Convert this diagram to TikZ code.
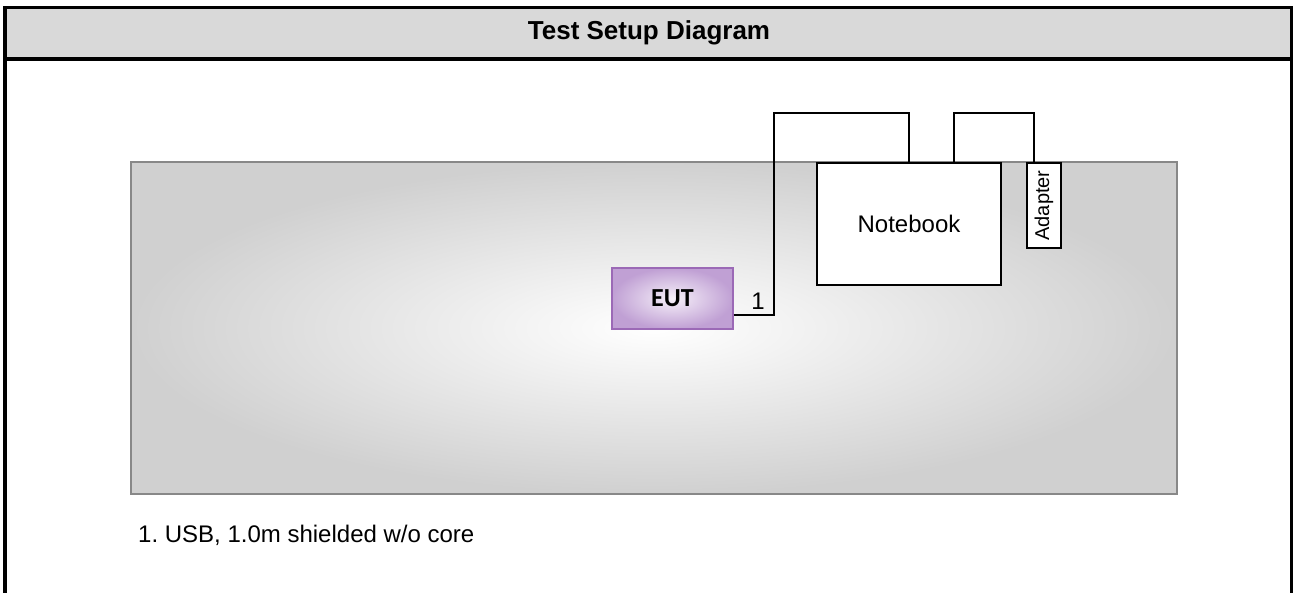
\documentclass[tikz,border=0pt]{standalone}
\usepackage{fontspec}
\setmainfont{Liberation Sans}
\newfontfamily\eutfont{Carlito}
\frenchspacing
\definecolor{hdrgray}{RGB}{217,217,217}
\definecolor{tblborder}{RGB}{136,136,136}
\definecolor{tblouter}{RGB}{208,208,208}
\definecolor{eutinner}{RGB}{246,240,249}
\definecolor{eutouter}{RGB}{192,160,212}
\definecolor{eutborder}{RGB}{155,105,182}
\tikzset{
  frameline/.style={line width=3.5pt, black},
  devbox/.style={draw=black, line width=1.6pt, fill=white, rectangle, inner sep=0pt},
  eutbox/.style={draw=eutborder, line width=1.4pt, rectangle, inner sep=0pt,
    inner color=eutinner, outer color=eutouter,
    minimum width=121pt, minimum height=61pt, font=\eutfont\bfseries\fontsize{26}{28}\selectfont},
  cable/.style={draw=black, line width=1.8pt},
  lbl/.style={font=\fontsize{24}{26}\selectfont, inner sep=0pt}
}
\begin{document}
\begin{tikzpicture}[x=1pt,y=-1pt]
\useasboundingbox (0,0) rectangle (1294,593);
% header
\fill[hdrgray] (5,7.5) rectangle (1291.5,59);
\draw[frameline] (5,600) -- (5,7.5) -- (1291.5,7.5) -- (1291.5,600);
\draw[frameline] (5,59) -- (1291.5,59);
\node[anchor=base, inner sep=0pt, font=\bfseries\fontsize{26}{28}\selectfont] (title) at (649,40) {Test Setup Diagram};
% table
\shade[inner color=white, outer color=tblouter] (131,162) rectangle (1177,494);
\draw[tblborder, line width=1.6pt] (131,162) rectangle (1177,494);
% devices
\node[eutbox] (eut) at (672.5,298.5) {EUT};
\node[devbox, minimum width=184pt, minimum height=122pt, font=\fontsize{24}{26}\selectfont] (nb) at (909,224) {Notebook};
\node[devbox, rotate=90, minimum width=85pt, minimum height=34pt, font=\fontsize{20}{22}\selectfont] (ad) at (1044,205.5) {Adapter};
% cables
\coordinate (c1) at (774,113);
\coordinate (c2) at (1034,113);
\draw[cable] ([yshift=-16.5pt]eut.east) -| (c1) -| (nb.north);
\draw[cable] ([xshift=45pt]nb.north) |- (c2) -| ([xshift=-10pt]ad.east);
\node[lbl, anchor=base] (one) at (758,310) {1};
% caption
\node[lbl, anchor=base west] (cap) at (138,542) {1. USB, 1.0m shielded w/o core};
\end{tikzpicture}
\end{document}
